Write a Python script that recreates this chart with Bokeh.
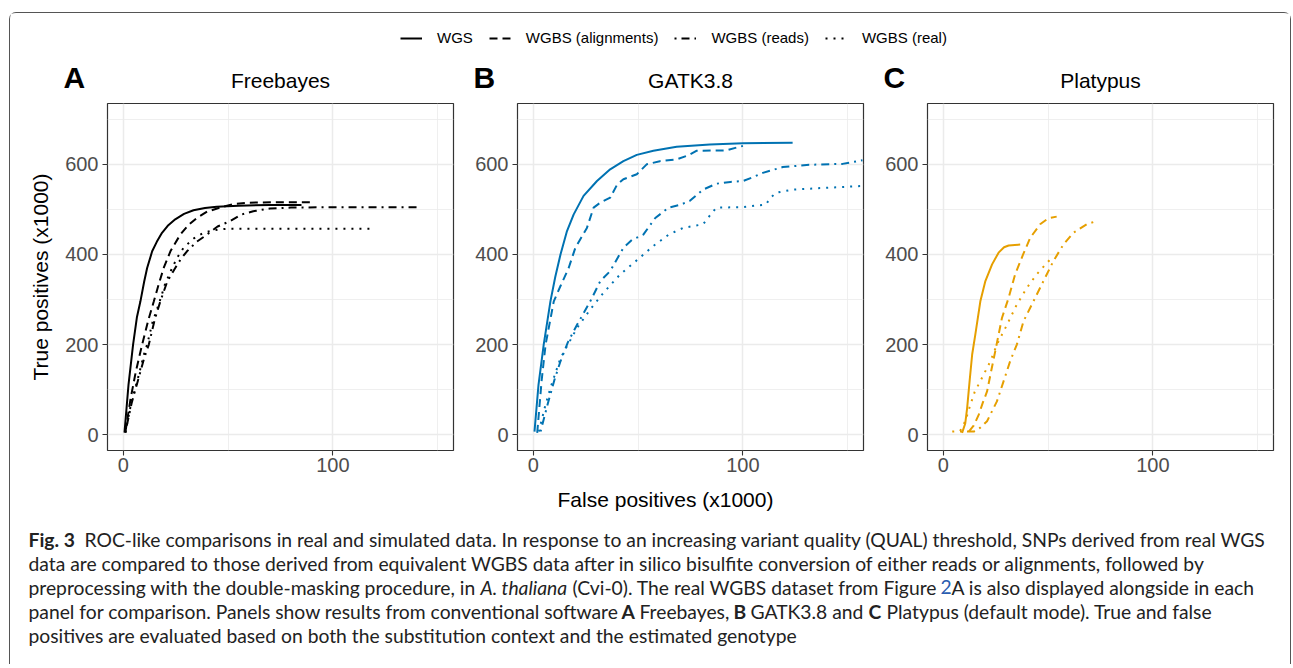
from bokeh.plotting import figure
from bokeh.models import Range1d, FixedTicker, Label, Legend, LegendItem
from bokeh.layouts import column, row
from bokeh.embed import file_html
from bokeh.resources import INLINE

# ---------------- data ----------------
series_names = ["WGS", "WGBS (alignments)", "WGBS (reads)", "WGBS (real)"]
panel_titles = ["Freebayes", "GATK3.8", "Platypus"]
panel_letters = ["A", "B", "C"]
panel_colors = ["#000000", "#0072B2", "#E69F00"]
x_ticks = [0, 100]
x_minor = [50, 150]
y_ticks = [0, 200, 400, 600]
y_minor = [100, 300, 500, 700]
x_title = "False positives (x1000)"
y_title = "True positives (x1000)"

# Freebayes
fb_wgs_x = [0.6, 2.5, 4.7, 6.5, 8.2, 10, 11.4, 13.8, 16, 18.5, 21.5, 24.8, 29, 33.5, 39, 44.6, 55, 70, 85]
fb_wgs_y = [5, 110, 200, 260, 296, 340, 370, 407, 428, 448, 465, 478, 490, 498, 503, 506, 508, 510, 510]
fb_aln_x = [1, 3.5, 6, 9, 12, 14.6, 17, 19.3, 22.5, 27.2, 31, 35.1, 40, 46.2, 52.5, 60, 75, 90.5]
fb_aln_y = [5, 80, 140, 200, 255, 296, 335, 370, 407, 444, 465, 481, 495, 504, 512, 515, 516, 516]
fb_reads_x = [1, 4, 7, 10, 12.2, 15, 17.7, 21, 24.8, 27.5, 30.4, 35, 39.9, 45, 51, 56, 62, 70, 80, 100, 120, 140]
fb_reads_y = [5, 70, 120, 170, 200, 255, 296, 340, 370, 390, 407, 428, 444, 462, 474, 488, 496, 502, 504, 505, 505, 505]
fb_real_x = [1, 4, 7, 10, 11.4, 14, 17.4, 20, 23.3, 26, 28.8, 33.5, 38.3, 41.5, 45, 49.4, 60, 80, 100, 117.4]
fb_real_y = [5, 75, 125, 180, 200, 250, 296, 335, 370, 395, 415, 435, 448, 452, 455, 457, 457, 457, 457, 457]

# GATK3.8
gk_wgs_x = [0.6, 2.5, 5, 8.2, 10.5, 13, 16.1, 19.3, 24, 30.4, 36.7, 43, 49.4, 57.3, 68.4, 84.2, 100, 123.7]
gk_wgs_y = [7, 110, 200, 296, 350, 400, 452, 489, 530, 563, 589, 607, 621, 630, 639, 644, 647, 648]
gk_aln_x = [1.9, 4, 5.9, 9.8, 13, 16.9, 20.1, 25.6, 28.8, 32, 36.7, 40, 43, 49.4, 54.1, 60.4, 68.4, 74, 77.8, 92, 100]
gk_aln_y = [4, 120, 200, 296, 330, 370, 415, 459, 504, 515, 526, 555, 567, 578, 600, 607, 611, 620, 630, 631, 641]
gk_reads_x = [3.5, 7, 10, 13, 16.5, 20.9, 27.2, 32, 36.7, 43, 47, 52.5, 58.2, 64.6, 70, 74.7, 81, 87.3, 94, 100, 104, 109.5, 119, 131.6, 147.5, 157]
gk_reads_y = [7, 70, 120, 163, 205, 244, 296, 341, 363, 415, 432, 444, 481, 504, 510, 519, 544, 557, 561, 563, 570, 581, 594, 599, 601, 609]
gk_real_x = [2.7, 5.5, 8.2, 13, 20.9, 27.2, 33.5, 41.5, 50.9, 57.3, 64.6, 71.5, 81, 84, 87.3, 100, 111, 113, 115.8, 123.7, 140, 157]
gk_real_y = [7, 60, 104, 170, 237, 278, 315, 356, 393, 419, 444, 459, 467, 485, 504, 505, 511, 525, 537, 544, 548, 552]

# Platypus
pl_wgs_x = [9, 10.5, 11.4, 12.6, 13.8, 15.3, 17.7, 20.1, 23.3, 26.4, 29, 31.2, 36.7]
pl_wgs_y = [4, 25, 59, 120, 178, 222, 296, 341, 378, 404, 416, 420, 422]
pl_aln_x = [12.2, 14.5, 16.9, 18.8, 20.9, 22.8, 24.8, 28, 31.2, 34.3, 38.1, 41.5, 46.2, 50, 54.1]
pl_aln_y = [7, 20, 44, 70, 96, 140, 185, 259, 304, 356, 400, 437, 467, 480, 484]
pl_reads_x = [8, 11, 14.6, 17.5, 20.9, 25.6, 28.8, 31.9, 35.1, 38.3, 43, 47.8, 52.5, 57.3, 62, 68.4, 73.1]
pl_reads_y = [7, 7, 7, 15, 30, 74, 119, 163, 200, 252, 296, 341, 385, 422, 448, 467, 474]
pl_real_x = [4.3, 8, 10.5, 13, 15, 17.7, 22.5, 25.6, 30.4, 35.1, 39.9, 44.6, 49.4, 52.5]
pl_real_y = [7, 8, 30, 67, 95, 119, 163, 200, 244, 289, 326, 356, 381, 396]

caption_texts = [
    ["Fig. 3", "ROC-like comparisons in real and simulated data. In response to an increasing variant quality (QUAL) threshold, SNPs derived from real WGS"],
    ["data are compared to those derived from equivalent WGBS data after in silico bisulfite conversion of either reads or alignments, followed by"],
    ["preprocessing with the double-masking procedure, in", "A. thaliana", "(Cvi-0). The real WGBS dataset from Figure", "2", "A is also displayed alongside in each"],
    ["panel for comparison. Panels show results from conventional software", "A", "Freebayes,", "B", "GATK3.8 and", "C", "Platypus (default mode). True and false"],
    ["positives are evaluated based on both the substitution context and the estimated genotype"],
]

# ---------------- styling / layout ----------------
dashes = ["solid", "8 5", "2 5 8 5", "2 6"]
LW = 2.0
AX_FONT = "Liberation Sans"
CAP_FONT = "Lato"
CAP_SIZE = "19.3px"
caption_styles = [["bold", "normal"], ["normal"],
                  ["normal", "italic", "normal", "normal", "normal"],
                  ["normal", "bold", "normal", "bold", "normal", "bold", "normal"], ["normal"]]
caption_x = [[28, 84], [28], [28, 480, 572, 940, 951], [28, 621, 639, 733, 750, 868, 886], [28]]
caption_colors = [[None, None], [None], [None, None, None, "#2a5db0", None], [None] * 7, [None]]
caption_mid = [538.5, 562.5, 586.5, 610.5, 634.5]

panel_data = [
    [(fb_wgs_x, fb_wgs_y), (fb_aln_x, fb_aln_y), (fb_reads_x, fb_reads_y), (fb_real_x, fb_real_y)],
    [(gk_wgs_x, gk_wgs_y), (gk_aln_x, gk_aln_y), (gk_reads_x, gk_reads_y), (gk_real_x, gk_real_y)],
    [(pl_wgs_x, pl_wgs_y), (pl_aln_x, pl_aln_y), (pl_reads_x, pl_reads_y), (pl_real_x, pl_real_y)],
]

X0, Y0 = 10, 13          # page position of the content box
TOTAL_W = 1280
TOP_H = 85               # strip with legend, panel letters and titles
FRAME_LEFT = [107, 517, 927]
FRAME_W, FRAME_H = 346, 347
ROW_BOTTOM = 484
BOT_H = 180


def make_panel(i):
    left = 97 if i == 0 else 52
    right = 17 if i == 2 else 12
    p = figure(frame_width=FRAME_W, frame_height=FRAME_H,
               x_range=Range1d(-7.5, 157.5), y_range=Range1d(-35, 735),
               min_border_left=left, min_border_right=right, min_border_top=5, min_border_bottom=34,
               toolbar_location=None, output_backend="svg")
    p.background_fill_color = "white"
    p.border_fill_color = "white"
    p.outline_line_color = "#333333"
    p.outline_line_width = 1.2

    p.xaxis.ticker = FixedTicker(ticks=x_ticks, minor_ticks=x_minor)
    p.yaxis.ticker = FixedTicker(ticks=y_ticks, minor_ticks=y_minor)
    for ax in (p.xaxis[0], p.yaxis[0]):
        ax.axis_line_color = None
        ax.major_tick_line_color = "#333333"
        ax.major_tick_line_width = 1.1
        ax.major_tick_out = 5
        ax.major_tick_in = 0
        ax.minor_tick_line_color = None
        ax.major_label_text_font = AX_FONT
        ax.major_label_text_font_size = "20px"
        ax.major_label_text_color = "#4d4d4d"
    p.xaxis.major_label_standoff = 2
    p.yaxis.major_label_standoff = 4
    if i == 0:
        p.yaxis.axis_label = y_title
        p.yaxis.axis_label_text_font = AX_FONT
        p.yaxis.axis_label_text_font_size = "21px"
        p.yaxis.axis_label_text_font_style = "normal"
        p.yaxis.axis_label_text_color = "black"
        p.yaxis.axis_label_standoff = 10
    for g in (p.xgrid[0], p.ygrid[0]):
        g.grid_line_color = "#ebebeb"
        g.grid_line_width = 1.5
        g.minor_grid_line_color = "#ebebeb"
        g.minor_grid_line_width = 0.8

    for (xs, ys), dash in zip(panel_data[i], dashes):
        p.line(x=xs, y=ys, line_color=panel_colors[i], line_width=LW, line_dash=dash)
    return p


panels = [make_panel(i) for i in range(3)]

# top strip: legend, panel letters, panel titles (pixel coordinates, y downward)
top = figure(frame_width=TOTAL_W, frame_height=TOP_H, x_range=Range1d(0, TOTAL_W), y_range=Range1d(TOP_H, 0),
             min_border=0, toolbar_location=None, output_backend="svg",
             x_axis_type=None, y_axis_type=None)
top.outline_line_color = None
items = []
for name, dash in zip(series_names, dashes):
    r = top.line(x=[-20, -10], y=[-20, -10], line_color="black", line_width=LW, line_dash=dash)
    items.append(LegendItem(label=name, renderers=[r]))
legend = Legend(items=items, orientation="horizontal", location=(400 - X0, TOP_H - (38 - Y0) - 8),
                padding=0, margin=0, border_line_color=None, background_fill_alpha=0,
                glyph_width=22, glyph_height=16, label_height=16, label_standoff=15, spacing=16,
                label_text_font=AX_FONT, label_text_font_size="15px", label_text_color="black")
top.add_layout(legend)
for i in range(3):
    top.add_layout(Label(x=FRAME_LEFT[i] - 44 - X0, y=76.5 - Y0, text=panel_letters[i],
                         text_font=AX_FONT, text_font_size="30px", text_font_style="bold",
                         text_color="black", text_baseline="middle"))
    top.add_layout(Label(x=FRAME_LEFT[i] + FRAME_W / 2 - X0, y=79.5 - Y0, text=panel_titles[i],
                         text_font=AX_FONT, text_font_size="21px", text_align="center",
                         text_color="black", text_baseline="middle"))

# bottom strip: shared x-axis title and caption
bot = figure(frame_width=TOTAL_W, frame_height=BOT_H, x_range=Range1d(0, TOTAL_W), y_range=Range1d(BOT_H, 0),
             min_border=0, toolbar_location=None, output_backend="svg",
             x_axis_type=None, y_axis_type=None)
bot.outline_line_color = None
bot.add_layout(Label(x=665 - X0, y=499 - ROW_BOTTOM, text=x_title, text_font=AX_FONT, text_font_size="21px",
                     text_align="center", text_baseline="middle", text_color="black"))
for li, segs in enumerate(caption_texts):
    for si, txt in enumerate(segs):
        bot.add_layout(Label(x=caption_x[li][si] - X0, y=caption_mid[li] - ROW_BOTTOM, text=txt,
                             text_font=CAP_FONT, text_font_size=CAP_SIZE,
                             text_font_style=caption_styles[li][si],
                             text_color=caption_colors[li][si] or "#222222",
                             text_baseline="middle", text_align="left"))

layout = column(top, row(*panels), bot,
                styles={"margin-left": "9px", "margin-top": "12px",
                        "border-top": "1px solid #555555", "border-left": "1px solid #555555",
                        "border-right": "1px solid #555555",
                        "border-top-left-radius": "7px", "border-top-right-radius": "7px"})

open("out.html", "w").write(file_html(layout, INLINE))
